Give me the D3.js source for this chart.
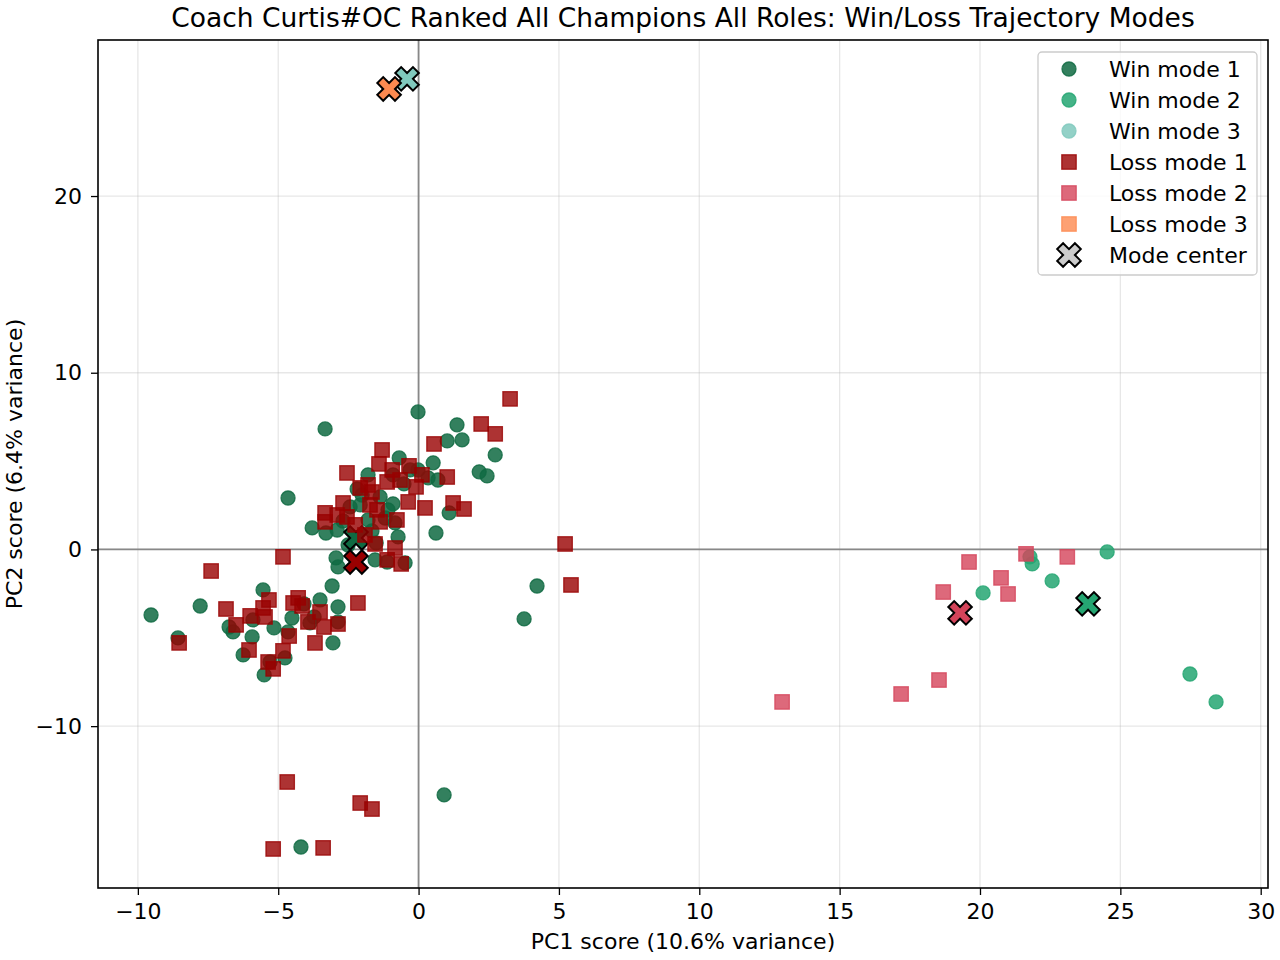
<!DOCTYPE html>
<html>
<head>
<meta charset="utf-8">
<script src="https://cdn.jsdelivr.net/npm/d3@7"></script>
<style>
  body { margin: 0; background: #fff; }
  svg text { font-family: "DejaVu Sans", sans-serif; fill: #000; }
</style>
</head>
<body>
<div id="chart"></div>
<script>
// PC scores, [PC1, PC2]
const winMode1 = [
  [-9.53, -3.71], [-8.57, -5.01], [-7.78, -3.20], [-6.75, -4.39], [-6.61, -4.67],
  [-6.25, -5.97], [-5.93, -4.95], [-5.90, -3.99], [-5.54, -2.29], [-5.50, -7.10],
  [-5.29, -6.37], [-5.15, -4.44], [-4.76, -6.14], [-4.65, 2.91], [-4.65, -4.67],
  [-4.51, -3.88], [-4.08, -3.08], [-3.87, -4.16], [-3.51, -2.86], [-3.33, 6.82],
  [-3.05, -5.29], [-2.87, -4.10], [-3.79, 1.22], [-3.30, 0.93], [-2.90, 1.10],
  [-2.87, -0.99], [-3.08, -2.07], [-2.69, 1.61], [-2.44, 2.41], [-2.19, 3.42],
  [-2.08, 2.52], [-1.80, 4.22], [-1.80, 1.67], [-1.66, 1.05], [-1.51, 0.37],
  [-1.55, -0.59], [-1.37, 2.97], [-1.19, 1.78], [-0.91, 2.58], [-1.09, 2.24],
  [-0.91, 4.22], [-0.69, 5.18], [-0.52, 3.71], [-0.84, 1.50], [-0.73, 0.71],
  [-0.48, -0.76], [-1.12, -0.71], [-0.02, 7.78], [0.52, 4.90], [-0.02, 4.50],
  [0.34, 4.05], [0.69, 3.93], [0.62, 0.93], [1.02, 6.14], [1.09, 2.07],
  [1.37, 7.05], [1.55, 6.20], [2.16, 4.39], [2.44, 4.16], [2.73, 5.35],
  [3.76, -3.93], [4.22, -2.07], [0.91, -13.89], [-4.19, -16.84], [-2.94, -0.48],
  [-2.51, 0.25], [-2.01, 3.08], [-0.30, 4.50], [-2.87, -3.25], [-3.72, -3.82]
];
const winMode2 = [
  [20.11, -2.46], [21.78, -0.42], [21.86, -0.82], [22.57, -1.78], [24.53, -0.14],
  [27.48, -7.05], [28.41, -8.63]
];
const winMode3 = [[-0.41, 26.63]];

const lossMode1 = [
  [-8.53, -5.29], [-7.39, -1.22], [-6.86, -3.37], [-6.50, -4.27], [-6.04, -5.69],
  [-6.00, -3.76], [-5.54, -3.31], [-5.47, -3.82], [-5.36, -6.37], [-5.33, -2.86],
  [-5.18, -6.76], [-5.18, -16.95], [-4.83, -0.42], [-4.83, -5.74], [-4.68, -13.16],
  [-4.61, -4.90], [-4.47, -3.03], [-4.29, -2.74], [-4.15, -3.20], [-3.94, -4.10],
  [-3.69, -5.29], [-3.51, -3.54], [-3.40, -16.89], [-3.37, -4.39], [-2.87, -4.22],
  [-2.16, -3.03], [-2.08, -14.35], [-1.66, -14.69], [3.26, 8.52], [2.23, 7.10],
  [2.73, 6.54], [0.55, 5.97], [-1.30, 5.63], [-2.55, 4.33], [-1.41, 4.84],
  [-0.34, 4.73], [0.12, 4.22], [1.02, 4.10], [-1.80, 3.65], [-1.12, 3.82],
  [-0.66, 3.93], [-0.09, 3.54], [-2.69, 2.63], [-3.33, 2.07], [-2.90, 1.95],
  [-1.73, 2.52], [-1.48, 2.24], [-0.37, 2.69], [0.23, 2.35], [1.23, 2.63],
  [1.62, 2.29], [-3.33, 1.56], [-2.55, 1.84], [-1.37, 1.56], [-0.77, 1.67],
  [-1.91, 0.82], [-1.55, 0.31], [-0.84, 0.08], [-1.12, -0.59], [-0.62, -0.82],
  [5.22, 0.31], [5.43, -2.01], [-2.08, 3.48], [-0.94, 4.50], [-1.66, 3.25],
  [-2.26, 1.39]
];
const lossMode2 = [
  [12.95, -8.63], [17.19, -8.18], [18.54, -7.39], [18.69, -2.41], [19.61, -0.71],
  [20.75, -1.61], [21.00, -2.52], [21.64, -0.25], [23.11, -0.42]
];
const lossMode3 = [[-1.05, 26.06]];

const winCenters = [[-2.23, 0.65], [23.85, -3.08], [-0.41, 26.63]];
const lossCenters = [[-2.23, -0.71], [19.29, -3.59], [-1.05, 26.06]];

const winColors = ["#0f6a42", "#25a672", "#80c9bd"];
const lossColors = ["#990000", "#d4445a", "#fc8a50"];
const legendLabels = ["Win mode 1", "Win mode 2", "Win mode 3",
  "Loss mode 1", "Loss mode 2", "Loss mode 3", "Mode center"];

const xTicks = [-10, -5, 0, 5, 10, 15, 20, 25, 30];
const yTicks = [-10, 0, 10, 20];

const width = 1280, height = 960;
const margin = { top: 40, right: 12, bottom: 72, left: 98 };

const svg = d3.select("#chart").append("svg")
  .attr("width", width).attr("height", height);

const x = d3.scaleLinear().domain([-11.42, 30.26])
  .range([margin.left, width - margin.right]);
const y = d3.scaleLinear().domain([-19.16, 28.83])
  .range([height - margin.bottom, margin.top]);

const plot = svg.append("g");

// grid
plot.selectAll(".gx").data(xTicks).enter().append("line")
  .attr("x1", d => x(d)).attr("x2", d => x(d))
  .attr("y1", y.range()[0]).attr("y2", y.range()[1])
  .attr("stroke", "#b0b0b0").attr("stroke-opacity", 0.3).attr("stroke-width", 1.3);
plot.selectAll(".gy").data(yTicks).enter().append("line")
  .attr("y1", d => y(d)).attr("y2", d => y(d))
  .attr("x1", x.range()[0]).attr("x2", x.range()[1])
  .attr("stroke", "#b0b0b0").attr("stroke-opacity", 0.3).attr("stroke-width", 1.3);

// zero lines
plot.append("line").attr("x1", x(0)).attr("x2", x(0))
  .attr("y1", y.range()[0]).attr("y2", y.range()[1])
  .attr("stroke", "#888").attr("stroke-width", 1.8);
plot.append("line").attr("y1", y(0)).attr("y2", y(0))
  .attr("x1", x.range()[0]).attr("x2", x.range()[1])
  .attr("stroke", "#888").attr("stroke-width", 1.8);

function xMarker(r) {
  const w = r / 3;
  const pts = [[w, -r], [w, -w], [r, -w], [r, w], [w, w], [w, r],
    [-w, r], [-w, w], [-r, w], [-r, -w], [-w, -w], [-w, -r]];
  const c = Math.SQRT1_2;
  return "M" + pts.map(p => [(p[0] - p[1]) * c, (p[0] + p[1]) * c].join(",")).join("L") + "Z";
}

const R = 7, S = 14.4;

function drawCircles(data, color) {
  plot.append("g").selectAll("circle").data(data).enter().append("circle")
    .attr("cx", d => x(d[0])).attr("cy", d => y(d[1])).attr("r", R)
    .attr("fill", color).attr("fill-opacity", 0.85)
    .attr("stroke", color).attr("stroke-opacity", 0.85).attr("stroke-width", 1.3);
}
function drawSquares(data, color) {
  plot.append("g").selectAll("rect").data(data).enter().append("rect")
    .attr("x", d => x(d[0]) - S / 2).attr("y", d => y(d[1]) - S / 2)
    .attr("width", S).attr("height", S)
    .attr("fill", color).attr("fill-opacity", 0.8)
    .attr("stroke", color).attr("stroke-opacity", 0.8).attr("stroke-width", 1.3);
}
function drawCenters(data, colors) {
  plot.append("g").selectAll("path").data(data).enter().append("path")
    .attr("d", xMarker(12.5))
    .attr("transform", d => `translate(${x(d[0])},${y(d[1])})`)
    .attr("fill", (d, i) => colors[i])
    .attr("stroke", "#000").attr("stroke-width", 2);
}

[winMode1, winMode2, winMode3].forEach((d, i) => drawCircles(d, winColors[i]));
drawCenters(winCenters, winColors);
[lossMode1, lossMode2, lossMode3].forEach((d, i) => drawSquares(d, lossColors[i]));
drawCenters(lossCenters, lossColors);

// frame
svg.append("rect")
  .attr("x", margin.left).attr("y", margin.top)
  .attr("width", width - margin.left - margin.right)
  .attr("height", height - margin.top - margin.bottom)
  .attr("fill", "none").attr("stroke", "#000").attr("stroke-width", 1.6);

// axes
const fmt = d3.format("d");
const xAxis = svg.append("g")
  .attr("transform", `translate(0,${height - margin.bottom})`)
  .call(d3.axisBottom(x).tickValues(xTicks).tickSize(7).tickPadding(8).tickFormat(fmt));
const yAxis = svg.append("g")
  .attr("transform", `translate(${margin.left},0)`)
  .call(d3.axisLeft(y).tickValues(yTicks).tickSize(7).tickPadding(9).tickFormat(fmt));
[xAxis, yAxis].forEach(a => {
  a.select(".domain").remove();
  a.selectAll(".tick line").attr("stroke", "#000").attr("stroke-width", 1.3);
  a.selectAll(".tick text").style("font-family", "DejaVu Sans").style("font-size", "22px");
});

// labels
svg.append("text").attr("x", 683).attr("y", 27)
  .attr("text-anchor", "middle").style("font-size", "26.5px")
  .text("Coach Curtis#OC Ranked All Champions All Roles: Win/Loss Trajectory Modes");
svg.append("text").attr("x", x((x.domain()[0] + x.domain()[1]) / 2)).attr("y", 949)
  .attr("text-anchor", "middle").style("font-size", "22px")
  .text("PC1 score (10.6% variance)");
svg.append("text")
  .attr("transform", `translate(22,${(margin.top + height - margin.bottom) / 2}) rotate(-90)`)
  .attr("text-anchor", "middle").style("font-size", "22px")
  .text("PC2 score (6.4% variance)");

// legend
const lg = svg.append("g").attr("transform", "translate(1038,52)");
lg.append("rect").attr("width", 219).attr("height", 223).attr("rx", 4)
  .attr("fill", "#fff").attr("fill-opacity", 0.8)
  .attr("stroke", "#cccccc").attr("stroke-width", 1.3);
legendLabels.forEach((lab, i) => {
  const cy = 17 + i * 31, cx = 31;
  const row = lg.append("g");
  if (i < 3) {
    row.append("circle").attr("cx", cx).attr("cy", cy).attr("r", R)
      .attr("fill", winColors[i]).attr("fill-opacity", 0.85)
      .attr("stroke", winColors[i]).attr("stroke-opacity", 0.85).attr("stroke-width", 1.3);
  } else if (i < 6) {
    row.append("rect").attr("x", cx - S / 2).attr("y", cy - S / 2).attr("width", S).attr("height", S)
      .attr("fill", lossColors[i - 3]).attr("fill-opacity", 0.8)
      .attr("stroke", lossColors[i - 3]).attr("stroke-opacity", 0.8).attr("stroke-width", 1.3);
  } else {
    row.append("path").attr("d", xMarker(12.5)).attr("transform", `translate(${cx},${cy})`)
      .attr("fill", "#cccccc").attr("stroke", "#000").attr("stroke-width", 2);
  }
  row.append("text").attr("x", 71).attr("y", cy + 8).style("font-size", "22px").text(lab);
});
</script>
</body>
</html>
